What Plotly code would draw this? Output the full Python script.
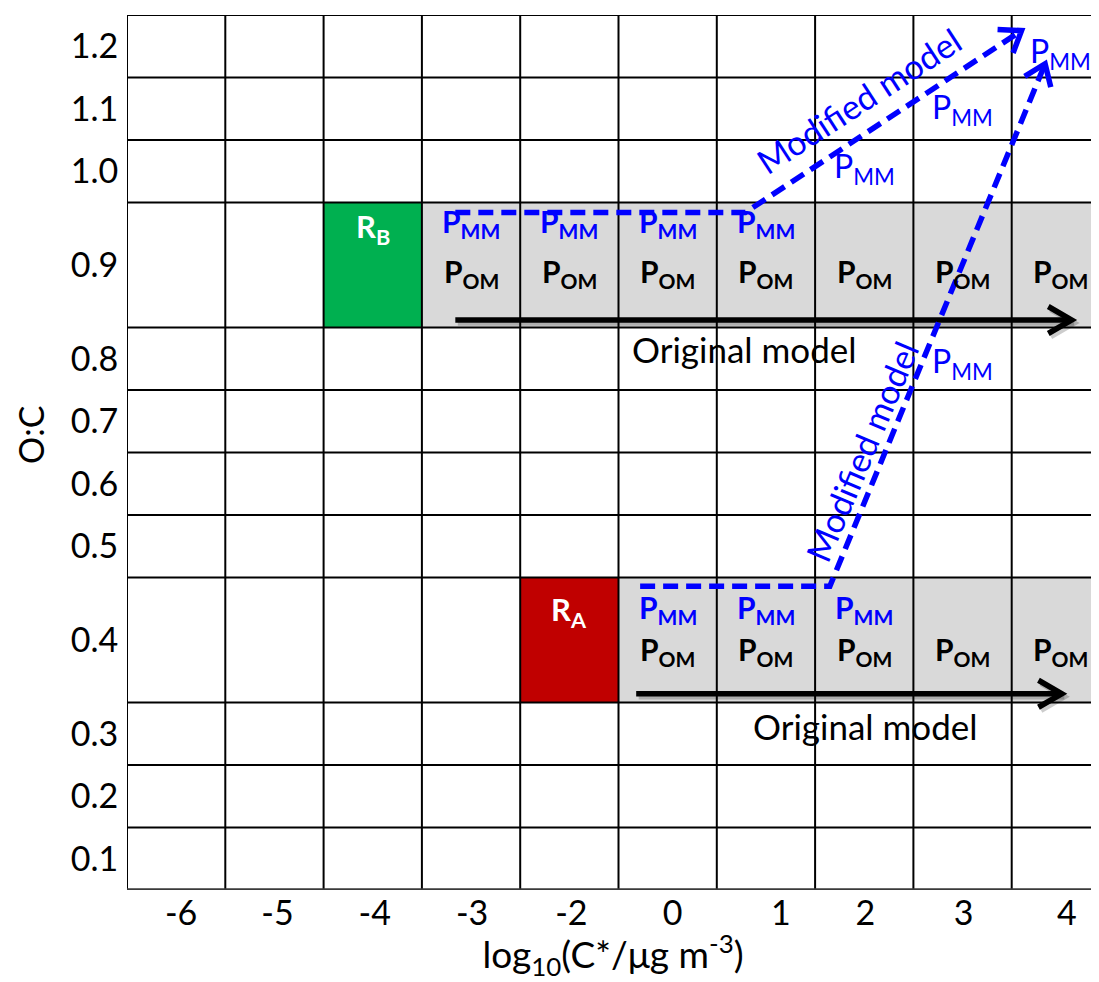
import plotly.graph_objects as go
import numpy as np

# ---------------- data ----------------
x_labels = ["-6", "-5", "-4", "-3", "-2", "0", "1", "2", "3", "4"]
oc_labels = ["0.1", "0.2", "0.3", "0.4", "0.5", "0.6", "0.7", "0.8", "0.9", "1.0", "1.1", "1.2"]
row_span = [1, 1, 1, 2, 1, 1, 1, 1, 2, 1, 1, 1]

reactant_labels = ["R<sub>B</sub>", "R<sub>A</sub>"]
reactant_cols = ["-4", "-2"]
reactant_rows = ["0.9", "0.4"]
reactant_colors = ["#00B050", "#C00000"]

band_rows = ["0.9", "0.4"]
band_start_cols = ["-3", "0"]

pmm_upper_cols = ["-3", "-2", "0", "1"]
pom_upper_cols = ["-3", "-2", "0", "1", "2", "3", "4"]
pmm_lower_cols = ["0", "1", "2"]
pom_lower_cols = ["0", "1", "2", "3", "4"]
pmm_path_cells = [("2", "1.0"), ("3", "1.1"), ("4", "1.2"), ("3", "0.8")]

# original-model arrows (axis units: column index, row units)
orig_x0 = [3.34, 5.18]
orig_x1 = [9.61, 9.51]
orig_y = [9.12, 3.14]
orig_text_x = [6.28, 7.51]
orig_text_y = [8.66, 2.62]

# modified-model dashed paths
mod_upper_x = [3.34, 6.29, 9.10]
mod_upper_y = [10.84, 10.84, 13.75]
mod_lower_x = [5.22, 7.15, 9.34]
mod_lower_y = [4.86, 4.86, 13.22]
mod_text_x = [7.44, 7.47]
mod_text_y = [12.64, 7.02]
mod_text_angle = [-33, -67]

# ---------------- layout / styling ----------------
PX_X = 98.3   # px per column
PX_Y = 62.5   # px per row unit
XMAX = 972 / PX_X
bounds = np.concatenate([[0], np.cumsum(row_span)])
YMAX = bounds[-1]
row_lo = {lab: bounds[i] for i, lab in enumerate(oc_labels)}
row_hi = {lab: bounds[i + 1] for i, lab in enumerate(oc_labels)}
row_mid = {lab: (bounds[i] + bounds[i + 1]) / 2 for i, lab in enumerate(oc_labels)}
col_idx = {lab: i for i, lab in enumerate(x_labels)}

tick_nudge_px = [5, 3, 2, 1, 2, 5, 15, 1, 1, 6]
r_label_dy = [0.42, 0.55]
path_pmm_dy = [0.05, 0.0, -0.1, -0.06]

FONT = "Lato, 'Open Sans', sans-serif"
BLUE = "#0000FF"


def chevron(tx, ty, px_dx, px_dy, length, half_angle_deg):
    """arms of an open arrow head at (tx,ty) pointing along (px_dx, px_dy) in px (y up)"""
    ang = np.arctan2(px_dy, px_dx) + np.pi
    xs, ys = [], []
    for s in (1, -1):
        a = ang + s * np.radians(half_angle_deg)
        xs.append(tx + length * np.cos(a) / PX_X)
        ys.append(ty + length * np.sin(a) / PX_Y)
    return [xs[0], tx, xs[1]], [ys[0], ty, ys[1]]


fig = go.Figure()
shapes = []

# gray bands
for r, c in zip(band_rows, band_start_cols):
    shapes.append(dict(type="rect", xref="x", yref="y", x0=col_idx[c], x1=XMAX + 1,
                       y0=row_lo[r], y1=row_hi[r], fillcolor="#D9D9D9",
                       line=dict(width=0), layer="below"))
# reactant cells
for c, r, colr in zip(reactant_cols, reactant_rows, reactant_colors):
    shapes.append(dict(type="rect", xref="x", yref="y", x0=col_idx[c], x1=col_idx[c] + 1,
                       y0=row_lo[r], y1=row_hi[r], fillcolor=colr,
                       line=dict(width=0), layer="below"))
# grid lines
for b in bounds[1:]:
    shapes.append(dict(type="line", xref="x", yref="y", x0=0, x1=XMAX + 1, y0=b, y1=b,
                       line=dict(color="black", width=2), layer="below"))
for i in range(len(x_labels)):
    shapes.append(dict(type="line", xref="x", yref="y", x0=i, x1=i, y0=0, y1=YMAX,
                       line=dict(color="black", width=2), layer="below"))
shapes.append(dict(type="line", xref="x", yref="y", x0=0, x1=XMAX + 1, y0=0, y1=0,
                   line=dict(color="#3a3a3a", width=3.5), layer="below"))

# black "original model" arrows with soft shadow
for x0, x1, y in zip(orig_x0, orig_x1, orig_y):
    cx, cy = chevron(x1, y, 1, 0, 27, 30)
    for off, col in [((2.5 / PX_X, -3 / PX_Y), "rgba(0,0,0,0.2)"), ((0, 0), "black")]:
        fig.add_trace(go.Scatter(x=[x0 + off[0], x1 + off[0]], y=[y + off[1], y + off[1]],
                                 mode="lines", hoverinfo="skip", showlegend=False,
                                 line=dict(color=col, width=5.5)))
        fig.add_trace(go.Scatter(x=[v + off[0] for v in cx], y=[v + off[1] for v in cy],
                                 mode="lines", hoverinfo="skip", showlegend=False,
                                 line=dict(color=col, width=5.5)))

# blue dashed "modified model" paths with open heads
for xs, ys in [(mod_upper_x, mod_upper_y), (mod_lower_x, mod_lower_y)]:
    fig.add_trace(go.Scatter(x=xs, y=ys, mode="lines", hoverinfo="skip", showlegend=False,
                             line=dict(color=BLUE, width=5.5, dash="15px,8px")))
    ddx = (xs[-1] - xs[-2]) * PX_X
    ddy = (ys[-1] - ys[-2]) * PX_Y
    cx, cy = chevron(xs[-1], ys[-1], ddx, ddy, 24, 36)
    fig.add_trace(go.Scatter(x=cx, y=cy, mode="lines", hoverinfo="skip", showlegend=False,
                             line=dict(color=BLUE, width=5.5)))

annotations = []

# reactant labels
for lab, c, r, dy in zip(reactant_labels, reactant_cols, reactant_rows, r_label_dy):
    annotations.append(dict(x=col_idx[c] + 0.5, y=row_hi[r] - dy, xref="x", yref="y",
                            text="<b>" + lab + "</b>", showarrow=False,
                            font=dict(family=FONT, size=31, color="white")))


def cell_text(cols, r, txt, color, dy):
    for c in cols:
        annotations.append(dict(x=col_idx[c] + 0.5, y=row_hi[r] - dy, xref="x", yref="y",
                                text=txt, showarrow=False,
                                font=dict(family=FONT, size=30, color=color)))


PMM = "<b>P<sub>MM</sub></b>"
POM = "<b>P<sub>OM</sub></b>"
cell_text(pmm_upper_cols, "0.9", PMM, BLUE, 0.33)
cell_text(pom_upper_cols, "0.9", POM, "black", 1.12)
cell_text(pmm_lower_cols, "0.4", PMM, BLUE, 0.51)
cell_text(pom_lower_cols, "0.4", POM, "black", 1.17)

for (c, r), dy in zip(pmm_path_cells, path_pmm_dy):
    annotations.append(dict(x=col_idx[c] + 0.5, y=row_mid[r] + dy, xref="x", yref="y",
                            text="P<sub>MM</sub>", showarrow=False,
                            font=dict(family=FONT, size=32, color=BLUE)))

for tx, ty in zip(orig_text_x, orig_text_y):
    annotations.append(dict(x=tx, y=ty, xref="x", yref="y", text="Original model",
                            showarrow=False, font=dict(family=FONT, size=35, color="black")))

for tx, ty, ang in zip(mod_text_x, mod_text_y, mod_text_angle):
    annotations.append(dict(x=tx, y=ty, xref="x", yref="y", text="Modified model",
                            textangle=ang, showarrow=False,
                            font=dict(family=FONT, size=34, color=BLUE)))

# y-axis title placed as rotated annotation
annotations.append(dict(x=-97 / 972, y=1 - 420 / 875, xref="paper", yref="paper",
                        text="O:C", textangle=-90, showarrow=False,
                        xanchor="center", yanchor="middle",
                        font=dict(family=FONT, size=34, color="black")))

fig.update_layout(
    width=1091, height=974,
    margin=dict(l=119, r=0, t=7, b=92),
    paper_bgcolor="white", plot_bgcolor="white",
    shapes=shapes, annotations=annotations,
    showlegend=False,
    font=dict(family=FONT, color="black"),
)
fig.update_xaxes(range=[0, XMAX], showgrid=False, zeroline=False, showline=False,
                 tickvals=[i + 0.5 + n / PX_X for i, n in enumerate(tick_nudge_px)],
                 ticktext=x_labels,
                 tickfont=dict(family=FONT, size=34, color="black"), ticks="",
                 title=dict(text="log<sub>10</sub>(C*/μg m<sup>-3</sup>)",
                            font=dict(family=FONT, size=37, color="black"), standoff=2))
fig.update_yaxes(range=[0, YMAX], showgrid=False, zeroline=False, showline=False,
                 tickvals=[row_mid[l] for l in oc_labels], ticktext=oc_labels,
                 tickfont=dict(family=FONT, size=34, color="black"),
                 ticks="outside", ticklen=1, tickcolor="rgba(0,0,0,0)")

fig.write_html("out.html")
